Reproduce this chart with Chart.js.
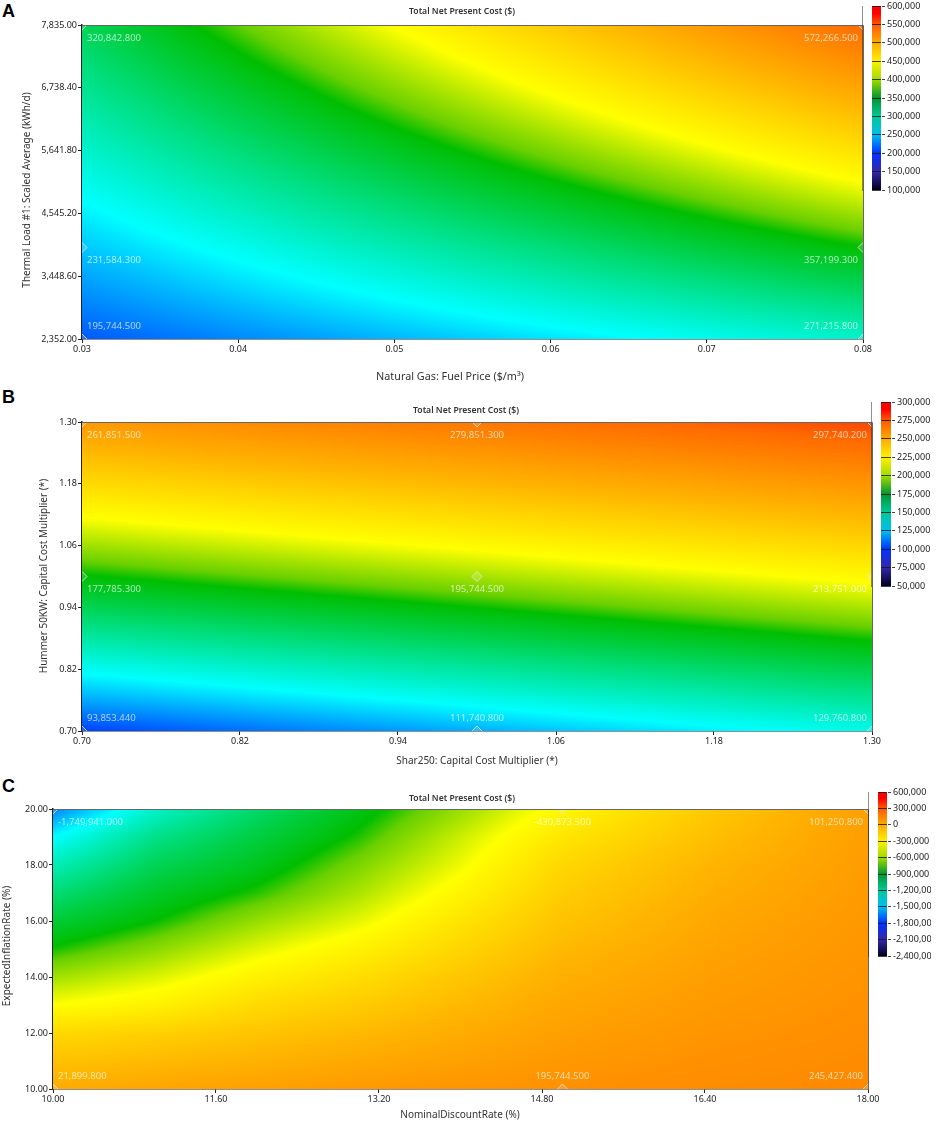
<!DOCTYPE html>
<html>
<head>
<meta charset="utf-8">
<title>Total Net Present Cost</title>
<script src="https://cdn.jsdelivr.net/npm/chart.js@4"></script>
<style>
  html, body { margin: 0; padding: 0; background: #fff; }
  #page { position: relative; width: 941px; height: 1124px; overflow: hidden; }
  canvas { position: absolute; }
  .tag { position: absolute; left: 2px; font: bold 18px "Liberation Sans", Arial, sans-serif; color: #000; }
</style>
</head>
<body>
<div id="page">
  <div class="tag" style="top:1px">A</div>
  <div class="tag" style="top:387px">B</div>
  <div class="tag" style="top:776px">C</div>
</div>
<script>
// Panel A
const gasPrices = [0.03, 0.08];
const thermalLoads = [2352, 3950, 7835];
const costA = [
    [195744.5, 271215.8],
    [231584.3, 357199.3],
    [320842.8, 572266.5]
];
const ticksAx = [0.03, 0.04, 0.05, 0.06, 0.07, 0.08];
const ticksAy = [2352, 3448.6, 4545.2, 5641.8, 6738.4, 7835];
const barTicksA = [100000, 150000, 200000, 250000, 300000, 350000, 400000, 450000, 500000, 550000, 600000];

// Panel B
const sharMultipliers = [0.7, 1.0, 1.3];
const hummerMultipliers = [0.7, 1.0, 1.3];
const costB = [
    [93853.44, 111740.8, 129760.8],
    [177785.3, 195744.5, 213751.0],
    [261851.5, 279851.3, 297740.2]
];
const ticksB = [0.7, 0.82, 0.94, 1.06, 1.18, 1.3];
const barTicksB = [50000, 75000, 100000, 125000, 150000, 175000, 200000, 225000, 250000, 275000, 300000];

// Panel C
const discountRates = [10, 11, 12, 13, 14, 15, 16.5, 18];
const inflationRates = [10, 12, 13, 14, 15, 16, 17, 18, 19, 20];
const costC = [
    [21900, 65000, 100000, 140000, 170000, 195744, 225000, 245427],
    [-250000, -200000, -130000, -60000, 20000, 100000, 170000, 210000],
    [-480000, -400000, -260000, -170000, -60000, 50000, 140000, 195000],
    [-660000, -550000, -400000, -280000, -140000, 0, 110000, 180000],
    [-840000, -705000, -540000, -400000, -230000, -60000, 80000, 165000],
    [-990000, -855000, -680000, -530000, -320000, -120000, 50000, 150000],
    [-1150000, -960000, -825000, -640000, -420000, -180000, 10000, 135000],
    [-1320000, -1070000, -930000, -730000, -510000, -240000, -30000, 120000],
    [-1500000, -1200000, -1020000, -830000, -580000, -330000, -90000, 110000],
    [-1749941, -1370000, -1120000, -910000, -680000, -430873, -150000, 101250]
];
const ticksCx = [10, 11.6, 13.2, 14.8, 16.4, 18];
const ticksCy = [10, 12, 14, 16, 18, 20];
const barTicksC = [-2400000, -2100000, -1800000, -1500000, -1200000, -900000, -600000, -300000, 0, 300000, 600000];

// labelled runs on the plots
const markersA = [[0.03, 7835, '320,842.800'], [0.08, 7835, '572,266.500'], [0.03, 3950, '231,584.300'], [0.08, 3950, '357,199.300'], [0.03, 2352, '195,744.500'], [0.08, 2352, '271,215.800']];
const markersB = [[0.7, 1.3, '261,851.500'], [1.0, 1.3, '279,851.300'], [1.3, 1.3, '297,740.200'], [0.7, 1.0, '177,785.300'], [1.0, 1.0, '195,744.500'], [1.3, 1.0, '213,751.000'], [0.7, 0.7, '93,853.440'], [1.0, 0.7, '111,740.800'], [1.3, 0.7, '129,760.800']];
const markersC = [[10, 20, '-1,749,941.000'], [15, 20, '-430,873.500'], [18, 20, '101,250.800'], [10, 10, '21,899.800'], [15, 10, '195,744.500'], [18, 10, '245,427.400']];

// colour ramp of the plots
const rampStops = [0, 0.1, 0.14, 0.3, 0.515, 0.545, 0.64, 0.8, 0.95, 0.99, 1];
const rampColors = [[2, 2, 40], [45, 35, 160], [0, 10, 255], [0, 255, 255], [0, 190, 0], [105, 208, 0], [255, 255, 0], [255, 175, 0], [255, 105, 0], [255, 70, 0], [255, 0, 0]];
// the colour bars are a little different
const barStops = [0, 0.1, 0.2, 0.3, 0.4, 0.5, 0.6, 0.7, 0.8, 0.9, 0.96, 1];
const barColors = [[0, 0, 30], [50, 40, 170], [0, 50, 255], [0, 190, 240], [0, 200, 150], [0, 150, 50], [160, 220, 0], [255, 240, 0], [255, 170, 0], [255, 90, 0], [255, 0, 0], [255, 0, 0]];

const fontName = '"Noto Sans", sans-serif';
const tickColor = '#222';
const page = document.getElementById('page');

function rampColor(t) {
    t = Math.min(1, Math.max(0, t));
    let i = 0;
    while (i < rampStops.length - 2 && t > rampStops[i + 1]) i++;
    const f = (t - rampStops[i]) / (rampStops[i + 1] - rampStops[i]);
    return rampColors[i].map((c, k) => c + (rampColors[i + 1][k] - c) * f);
}

function findCell(list, v) {
    let i = 0;
    while (i < list.length - 2 && v > list[i + 1]) i++;
    return i;
}

// paints the cost surface under the markers, positions come from the scales
const surfacePlugin = {
    id: 'surface',
    beforeDatasetsDraw(chart, args, opts) {
        const area = chart.chartArea;
        const w = Math.round(area.right - area.left);
        const h = Math.round(area.bottom - area.top);
        const off = document.createElement('canvas');
        off.width = w;
        off.height = h;
        const offCtx = off.getContext('2d');
        const img = offCtx.createImageData(w, h);
        for (let py = 0; py < h; py++) {
            const yVal = chart.scales.y.getValueForPixel(area.top + py + 0.5);
            const j = findCell(opts.ys, yVal);
            const fy = (yVal - opts.ys[j]) / (opts.ys[j + 1] - opts.ys[j]);
            for (let px = 0; px < w; px++) {
                const xVal = chart.scales.x.getValueForPixel(area.left + px + 0.5);
                const i = findCell(opts.xs, xVal);
                const fx = (xVal - opts.xs[i]) / (opts.xs[i + 1] - opts.xs[i]);
                const low = opts.values[j][i] * (1 - fx) + opts.values[j][i + 1] * fx;
                const high = opts.values[j + 1][i] * (1 - fx) + opts.values[j + 1][i + 1] * fx;
                const c = rampColor((low * (1 - fy) + high * fy - opts.min) / (opts.max - opts.min));
                const k = (py * w + px) * 4;
                img.data[k] = c[0];
                img.data[k + 1] = c[1];
                img.data[k + 2] = c[2];
                img.data[k + 3] = 255;
            }
        }
        offCtx.putImageData(img, 0, 0);
        chart.ctx.drawImage(off, area.left, area.top);
    }
};

// frame, run labels and the titles
const textPlugin = {
    id: 'panelText',
    afterDatasetsDraw(chart, args, opts) {
        const ctx = chart.ctx;
        const area = chart.chartArea;
        ctx.save();
        ctx.strokeStyle = '#666';
        ctx.lineWidth = 1;
        ctx.beginPath();
        ctx.moveTo(area.left, area.top + 0.5);
        ctx.lineTo(area.right + 0.5, area.top + 0.5);
        ctx.lineTo(area.right + 0.5, area.bottom);
        ctx.stroke();

        ctx.font = '9.5px ' + fontName;
        ctx.fillStyle = 'rgba(255,255,255,0.66)';
        ctx.textBaseline = 'middle';
        opts.markers.forEach(m => {
            const x = chart.scales.x.getPixelForValue(m[0]);
            const y = chart.scales.y.getPixelForValue(m[1]);
            let dx = 0;
            ctx.textAlign = 'center';
            if (x <= area.left + 1) { ctx.textAlign = 'left'; dx = 5; }
            if (x >= area.right - 1) { ctx.textAlign = 'right'; dx = -5; }
            const dy = y >= area.bottom - 1 ? -13 : 13;
            ctx.fillText(m[2], x + dx, y + dy);
        });

        ctx.fillStyle = '#333';
        ctx.textAlign = 'center';
        ctx.font = '600 8.6px ' + fontName;
        ctx.fillText('Total Net Present Cost ($)', opts.titleX, opts.titleY);
        ctx.font = opts.xLabelSize + 'px ' + fontName;
        ctx.fillText(opts.xLabel, opts.xLabelX, opts.xLabelY);
        ctx.font = '10px ' + fontName;
        ctx.translate(opts.yLabelX, opts.yLabelY);
        ctx.rotate(-Math.PI / 2);
        ctx.fillText(opts.yLabel, 0, 0);
        ctx.restore();
    }
};

function addCanvas(left, top, width, height) {
    const c = document.createElement('canvas');
    c.width = width;
    c.height = height;
    c.style.left = left + 'px';
    c.style.top = top + 'px';
    page.appendChild(c);
    return c;
}

function axis(ticks, position, fitKey, fitSize, padding) {
    return {
        type: 'linear',
        position: position,
        min: ticks[0],
        max: ticks[ticks.length - 1],
        afterBuildTicks: s => { s.ticks = ticks.map(v => ({ value: v })); },
        afterFit: s => { s[fitKey] = fitSize; },
        border: { color: tickColor, width: 1.5 },
        grid: { drawOnChartArea: false, color: tickColor, tickLength: 4 },
        ticks: {
            autoSkip: false,
            maxRotation: 0,
            padding: padding,
            color: '#222',
            font: { family: fontName, size: 9 },
            callback: v => v.toLocaleString('en-US', { minimumFractionDigits: 2, maximumFractionDigits: 2 })
        }
    };
}

function drawPanel(p) {
    const canvasTop = p.canvasTop;
    const canvas = addCanvas(0, canvasTop, 941, p.canvasHeight);
    new Chart(canvas, {
        type: 'scatter',
        data: {
            datasets: [{
                data: p.markers.map(m => ({ x: m[0], y: m[1] })),
                pointStyle: 'rectRot',
                pointRadius: 5,
                pointBackgroundColor: 'rgba(255,255,255,0.15)',
                pointBorderColor: 'rgba(225,225,225,0.85)',
                pointBorderWidth: 1
            }]
        },
        options: {
            responsive: false,
            animation: false,
            layout: {
                padding: {
                    left: p.left - 40,
                    right: 941 - p.right,
                    top: p.top - canvasTop,
                    bottom: canvasTop + p.canvasHeight - p.bottom - 20
                }
            },
            scales: {
                x: axis(p.xTicks, 'bottom', 'height', 20, 1),
                y: axis(p.yTicks, 'left', 'width', 40, 1)
            },
            plugins: {
                legend: { display: false },
                tooltip: { enabled: false },
                surface: { xs: p.xs, ys: p.ys, values: p.values, min: p.barTicks[0], max: p.barTicks[p.barTicks.length - 1] },
                panelText: {
                    markers: p.markers,
                    titleX: p.titleX, titleY: p.titleY - canvasTop,
                    xLabel: p.xLabel, xLabelX: p.xLabelX, xLabelY: p.xLabelY - canvasTop, xLabelSize: p.xLabelSize,
                    yLabel: p.yLabel, yLabelX: p.yLabelX, yLabelY: p.yLabelY - canvasTop
                }
            }
        },
        plugins: [surfacePlugin, textPlugin]
    });
    drawBar(p);
}

function drawBar(p) {
    const b = p.bar;
    const left = b.left - 10;
    const top = b.top - 8;
    const width = 941 - left;
    const height = b.bottom - b.top + 16;
    const ticks = p.barTicks;
    const canvas = addCanvas(left, top, width, height);
    new Chart(canvas, {
        type: 'bar',
        data: {
            labels: [''],
            datasets: [{
                data: [[ticks[0], ticks[ticks.length - 1]]],
                categoryPercentage: 1,
                barPercentage: 1,
                borderSkipped: false,
                backgroundColor(ctx) {
                    const area = ctx.chart.chartArea;
                    if (!area) return '#888';
                    const g = ctx.chart.ctx.createLinearGradient(0, area.bottom, 0, area.top);
                    barStops.forEach((s, i) => g.addColorStop(s, 'rgb(' + barColors[i].join(',') + ')'));
                    return g;
                }
            }]
        },
        options: {
            responsive: false,
            animation: false,
            layout: { padding: { left: 10, right: width - 10 - (b.right - b.left) - 44, top: 8, bottom: 8 } },
            scales: {
                x: { display: false },
                y: {
                    type: 'linear',
                    position: 'right',
                    min: ticks[0],
                    max: ticks[ticks.length - 1],
                    afterBuildTicks: s => { s.ticks = ticks.map(v => ({ value: v })); },
                    afterFit: s => { s.width = 44; },
                    border: { color: '#222', width: 1 },
                    grid: { color: 'rgba(20,20,20,0.8)', tickLength: 4, z: 1 },
                    ticks: {
                        autoSkip: false,
                        padding: 2,
                        color: '#222',
                        font: { family: fontName, size: 9 },
                        callback: v => v.toLocaleString('en-US')
                    }
                }
            },
            plugins: { legend: { display: false }, tooltip: { enabled: false } }
        }
    });
}

drawPanel({
    canvasTop: 0, canvasHeight: 395,
    left: 82, right: 863, top: 25, bottom: 339,
    xs: gasPrices, ys: thermalLoads, values: costA,
    xTicks: ticksAx, yTicks: ticksAy, barTicks: barTicksA, markers: markersA,
    bar: { left: 872, right: 881, top: 6, bottom: 190 },
    titleX: 462, titleY: 12,
    xLabel: 'Natural Gas: Fuel Price ($/m\u00b3)', xLabelX: 450, xLabelY: 377, xLabelSize: 10.8,
    yLabel: 'Thermal Load #1: Scaled Average (kWh/d)', yLabelX: 27, yLabelY: 190
});

drawPanel({
    canvasTop: 395, canvasHeight: 395,
    left: 82, right: 872, top: 422, bottom: 731,
    xs: sharMultipliers, ys: hummerMultipliers, values: costB,
    xTicks: ticksB, yTicks: ticksB, barTicks: barTicksB, markers: markersB,
    bar: { left: 881, right: 891, top: 402, bottom: 586 },
    titleX: 466, titleY: 411,
    xLabel: 'Shar250: Capital Cost Multiplier (*)', xLabelX: 477, xLabelY: 761, xLabelSize: 10,
    yLabel: 'Hummer 50KW: Capital Cost Multiplier (*)', yLabelX: 44, yLabelY: 576
});

drawPanel({
    canvasTop: 790, canvasHeight: 334,
    left: 53, right: 868, top: 809, bottom: 1089,
    xs: discountRates, ys: inflationRates, values: costC,
    xTicks: ticksCx, yTicks: ticksCy, barTicks: barTicksC, markers: markersC,
    bar: { left: 878, right: 887, top: 792, bottom: 956 },
    titleX: 462, titleY: 799,
    xLabel: 'NominalDiscountRate (%)', xLabelX: 460, xLabelY: 1115, xLabelSize: 10,
    yLabel: 'ExpectedInflationRate (%)', yLabelX: 7, yLabelY: 946
});
</script>
</body>
</html>
